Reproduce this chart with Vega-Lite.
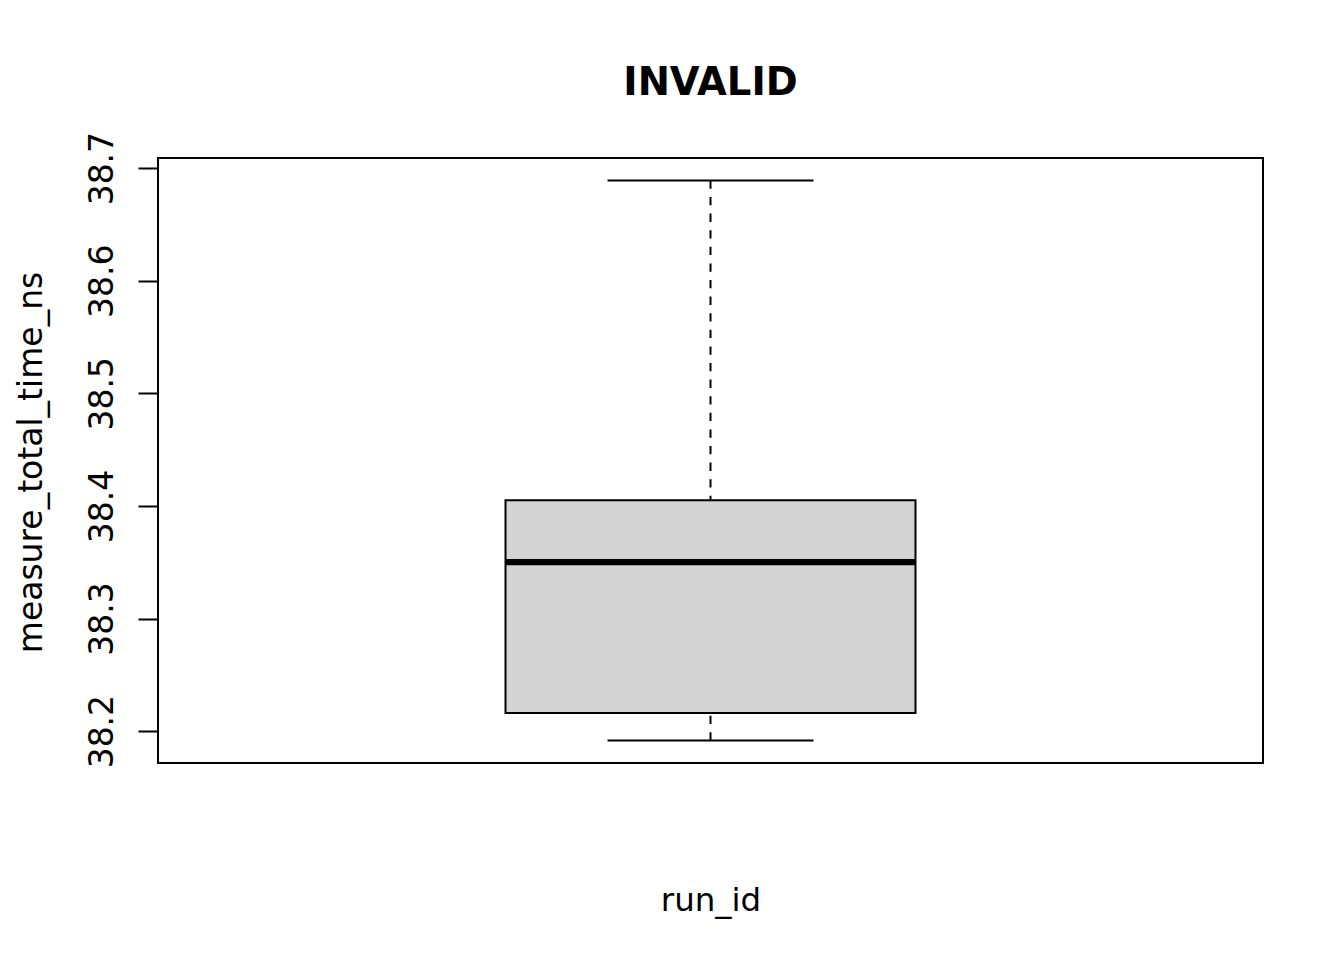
{
  "$schema": "https://vega.github.io/schema/vega-lite/v6.json",
  "width": 1105,
  "height": 605,
  "autosize": {"type": "none"},
  "padding": {"left": 158, "top": 158, "right": 81, "bottom": 197},
  "background": "white",
  "title": {
    "text": "INVALID",
    "font": "DejaVu Sans",
    "fontSize": 38.5,
    "fontWeight": "bold",
    "color": "black",
    "anchor": "middle",
    "baseline": "alphabetic",
    "offset": -2
  },
  "config": {
    "view": {"stroke": "black", "strokeWidth": 2},
    "font": "DejaVu Sans"
  },
  "data": {
    "values": [
      {"run_id": "INVALID", "min": 38.1916, "q1": 38.2161, "median": 38.350, "q3": 38.405, "max": 38.6891}
    ]
  },
  "encoding": {
    "x": {
      "field": "run_id",
      "type": "nominal",
      "scale": {"type": "band", "paddingInner": 0, "paddingOuter": 0.8476},
      "axis": {
        "labels": false,
        "ticks": false,
        "domain": false,
        "grid": false,
        "title": "run_id",
        "titleFont": "DejaVu Sans",
        "titleFontSize": 32.5,
        "titleFontWeight": "normal",
        "titleColor": "black",
        "titleBaseline": "alphabetic",
        "titleAlign": "center",
        "titleX": 552.5,
        "titleY": 147
      }
    }
  },
  "layer": [
    {
      "mark": {"type": "rule", "color": "black", "strokeWidth": 2, "strokeDash": [8.3, 8.3]},
      "encoding": {
        "y": {
          "field": "max",
          "type": "quantitative",
          "scale": {"domain": [38.1717, 38.709], "nice": false, "zero": false},
          "axis": {
            "values": [38.2, 38.3, 38.4, 38.5, 38.6, 38.7],
            "format": ".1f",
            "grid": false,
            "domain": false,
            "tickSize": 20,
            "tickWidth": 2,
            "tickColor": "black",
            "labelFont": "DejaVu Sans",
            "labelFontSize": 33,
            "labelColor": "black",
            "labelAngle": -90,
            "labelAlign": "center",
            "labelBaseline": "alphabetic",
            "labelPadding": 26,
            "labelOverlap": false,
            "labelFlush": false,
            "title": "measure_total_time_ns",
            "titleFont": "DejaVu Sans",
            "titleFontSize": 33,
            "titleFontWeight": "normal",
            "titleColor": "black",
            "titleAngle": -90,
            "titleAlign": "center",
            "titleBaseline": "alphabetic",
            "titleX": -117,
            "titleY": 304
          }
        },
        "y2": {"field": "q3"}
      }
    },
    {
      "mark": {"type": "rule", "color": "black", "strokeWidth": 2, "strokeDash": [8.3, 8.3]},
      "encoding": {
        "y": {"field": "min", "type": "quantitative"},
        "y2": {"field": "q1"}
      }
    },
    {
      "mark": {"type": "bar", "fill": "#D3D3D3", "stroke": "black", "strokeWidth": 2},
      "encoding": {
        "y": {"field": "q1", "type": "quantitative"},
        "y2": {"field": "q3"}
      }
    },
    {
      "mark": {"type": "tick", "color": "black", "size": 410, "thickness": 6.25, "opacity": 1},
      "encoding": {
        "y": {"field": "median", "type": "quantitative"}
      }
    },
    {
      "mark": {"type": "tick", "color": "black", "size": 206, "thickness": 2, "opacity": 1},
      "encoding": {
        "y": {"field": "max", "type": "quantitative"}
      }
    },
    {
      "mark": {"type": "tick", "color": "black", "size": 206, "thickness": 2, "opacity": 1},
      "encoding": {
        "y": {"field": "min", "type": "quantitative"}
      }
    }
  ]
}
